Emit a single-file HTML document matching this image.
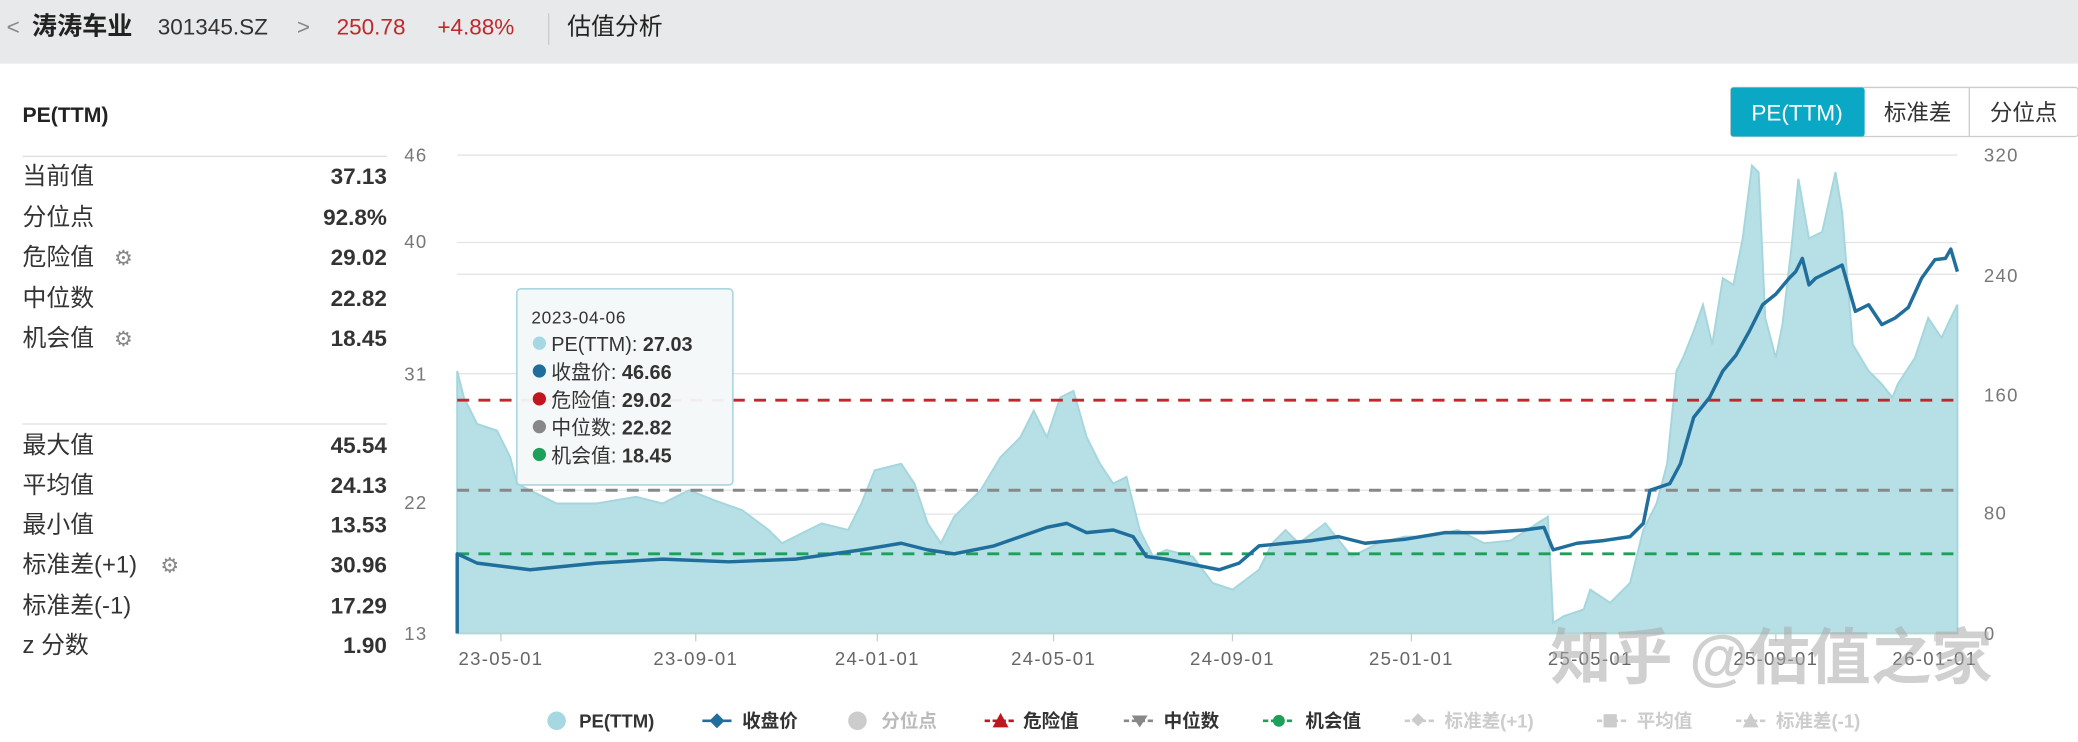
<!DOCTYPE html>
<html><head><meta charset="utf-8"><style>
html,body{margin:0;padding:0;background:#fff;}
svg{display:block;}
text{font-family:"Liberation Sans","Noto Sans CJK SC",sans-serif;}
</style></head><body>
<svg width="2078" height="742" viewBox="0 0 1568 560" preserveAspectRatio="none" xmlns="http://www.w3.org/2000/svg">
<rect x="0" y="0" width="1568" height="560" fill="#fff"/>
<rect x="0" y="0" width="1568" height="48" fill="#e8e9ea"/>
<text x="5" y="26" font-size="17" fill="#888">&lt;</text>
<text x="24" y="26" font-size="19" font-weight="bold" fill="#222">涛涛车业</text>
<text x="119" y="26" font-size="17" fill="#333">301345.SZ</text>
<text x="224" y="26" font-size="17" fill="#888">&gt;</text>
<text x="254" y="26" font-size="17" fill="#c0282d">250.78</text>
<text x="330" y="26" font-size="17" fill="#c0282d">+4.88%</text>
<line x1="414" y1="10" x2="414" y2="34" stroke="#ccc"/>
<text x="428" y="26" font-size="18" fill="#222">估值分析</text>

<text x="17" y="92" font-size="16" font-weight="bold" fill="#222">PE(TTM)</text>
<line x1="17" y1="118" x2="292" y2="118" stroke="#ddd"/>
<line x1="17" y1="320" x2="292" y2="320" stroke="#ddd"/>
<g font-size="18" fill="#333">
<text x="17" y="139">当前值</text><text x="17" y="170">分位点</text><text x="17" y="200">危险值</text>
<text x="17" y="231">中位数</text><text x="17" y="261">机会值</text>
<text x="17" y="342">最大值</text><text x="17" y="372">平均值</text><text x="17" y="402">最小值</text>
<text x="17" y="432">标准差(+1)</text><text x="17" y="463">标准差(-1)</text><text x="17" y="493">z 分数</text>
</g>
<g font-size="16" fill="#888"><text x="86" y="200">⚙</text><text x="86" y="261">⚙</text><text x="121" y="432">⚙</text></g>
<g font-size="17" font-weight="bold" fill="#333" text-anchor="end">
<text x="292" y="139">37.13</text><text x="292" y="170">92.8%</text><text x="292" y="200">29.02</text>
<text x="292" y="231">22.82</text><text x="292" y="261">18.45</text>
<text x="292" y="342">45.54</text><text x="292" y="372">24.13</text><text x="292" y="402">13.53</text>
<text x="292" y="432">30.96</text><text x="292" y="463">17.29</text><text x="292" y="493">1.90</text>
</g>

<rect x="1306" y="66" width="262" height="37" fill="#fff" stroke="#ccc" rx="2"/>
<rect x="1306" y="66" width="101" height="37" fill="#0aa8c4" rx="2"/>
<line x1="1486" y1="66" x2="1486" y2="103" stroke="#ccc"/>
<text x="1356" y="91" font-size="17" fill="#fff" text-anchor="middle">PE(TTM)</text>
<text x="1447" y="91" font-size="17" fill="#333" text-anchor="middle">标准差</text>
<text x="1527" y="91" font-size="17" fill="#333" text-anchor="middle">分位点</text>

<g stroke="#e4e4e4" stroke-width="1">
<line x1="345" y1="117" x2="1477" y2="117"/><line x1="345" y1="183" x2="1477" y2="183"/>
<line x1="345" y1="207" x2="1477" y2="207"/><line x1="345" y1="282" x2="1477" y2="282"/>
<line x1="345" y1="370" x2="1477" y2="370"/><line x1="345" y1="388" x2="1477" y2="388"/>
</g>
<g font-size="14" fill="#777" letter-spacing="1">
<text x="305" y="122">46</text><text x="305" y="187">40</text><text x="305" y="287">31</text>
<text x="305" y="384">22</text><text x="305" y="483">13</text>
<text x="1497" y="122">320</text><text x="1497" y="213">240</text><text x="1497" y="303">160</text>
<text x="1497" y="392">80</text><text x="1497" y="483">0</text>
</g>

<path fill="#b6e0e6" stroke="#a5d6de" stroke-width="1.5" d="M345,478 L345,280 350,300 360,320 375,325 385,345 390,365 400,370 420,380 450,380 480,375 500,380 520,370 540,378 560,385 580,400 590,410 600,405 620,395 640,400 650,380 660,355 680,350 690,365 700,395 710,410 720,390 740,370 755,345 770,330 780,310 790,330 800,300 810,295 820,330 830,350 840,365 850,360 860,400 870,420 880,415 900,420 915,440 930,445 950,430 960,410 970,400 980,410 1000,395 1020,420 1040,410 1060,405 1080,405 1100,400 1120,410 1140,408 1160,395 1168,390 1172,470 1180,465 1195,460 1200,445 1215,455 1230,440 1240,400 1250,380 1258,350 1265,280 1270,270 1278,250 1285,230 1292,260 1300,210 1308,215 1315,180 1322,125 1327,130 1332,240 1340,270 1345,245 1352,185 1357,135 1365,180 1375,175 1385,130 1390,160 1398,260 1410,280 1420,290 1428,300 1432,290 1445,270 1455,240 1465,255 1472,240 1477,230 L1477,478 Z"/>
<line x1="345" y1="478" x2="1477" y2="478" stroke="#ccc"/>

<line x1="345" y1="302" x2="1477" y2="302" stroke="#c0282d" stroke-width="2.2" stroke-dasharray="9,7"/>
<line x1="345" y1="370" x2="1477" y2="370" stroke="#888" stroke-width="2.2" stroke-dasharray="9,7"/>
<line x1="345" y1="418" x2="1477" y2="418" stroke="#1fa05a" stroke-width="2.2" stroke-dasharray="9,7"/>

<polyline fill="none" stroke="#1f6e9c" stroke-width="2.6" stroke-linejoin="round" points="345,478 345,418 360,425 400,430 450,425 500,422 550,424 600,422 650,415 680,410 700,415 720,418 750,412 770,405 790,398 805,395 820,402 840,400 855,405 865,420 880,422 900,426 920,430 935,425 950,412 970,410 990,408 1010,405 1030,410 1060,407 1090,402 1120,402 1150,400 1165,398 1172,415 1190,410 1210,408 1230,405 1240,395 1245,370 1260,365 1268,350 1278,315 1290,300 1300,280 1310,268 1320,250 1330,230 1340,222 1350,210 1355,205 1360,195 1365,215 1370,210 1380,205 1390,200 1400,235 1410,230 1420,245 1430,240 1440,232 1450,210 1460,196 1468,195 1472,188 1477,205"/>

<g stroke="#ccc"><line x1="378" y1="478" x2="378" y2="484"/><line x1="525" y1="478" x2="525" y2="484"/><line x1="662" y1="478" x2="662" y2="484"/><line x1="795" y1="478" x2="795" y2="484"/><line x1="930" y1="478" x2="930" y2="484"/><line x1="1065" y1="478" x2="1065" y2="484"/><line x1="1200" y1="478" x2="1200" y2="484"/><line x1="1340" y1="478" x2="1340" y2="484"/><line x1="1460" y1="478" x2="1460" y2="484"/></g>
<g font-size="14" fill="#666" text-anchor="middle" letter-spacing="1">
<text x="378" y="502">23-05-01</text><text x="525" y="502">23-09-01</text><text x="662" y="502">24-01-01</text>
<text x="795" y="502">24-05-01</text><text x="930" y="502">24-09-01</text><text x="1065" y="502">25-01-01</text>
<text x="1200" y="502">25-05-01</text><text x="1340" y="502">25-09-01</text><text x="1460" y="502">26-01-01</text>
</g>

<rect x="390" y="218" width="163" height="148" fill="#f4f8f9" fill-opacity="0.95" stroke="#a9d6de" stroke-width="1.2" rx="3"/>
<text x="401" y="244" font-size="13" fill="#333" letter-spacing="0.5">2023-04-06</text>
<g font-size="15" fill="#333">
<circle cx="407" cy="259" r="5" fill="#a6d8e1"/><text x="416" y="265">PE(TTM): <tspan font-weight="bold">27.03</tspan></text>
<circle cx="407" cy="280" r="5" fill="#1f6e9c"/><text x="416" y="286">收盘价: <tspan font-weight="bold">46.66</tspan></text>
<circle cx="407" cy="301" r="5" fill="#c0161e"/><text x="416" y="307">危险值: <tspan font-weight="bold">29.02</tspan></text>
<circle cx="407" cy="322" r="5" fill="#888"/><text x="416" y="328">中位数: <tspan font-weight="bold">22.82</tspan></text>
<circle cx="407" cy="343" r="5" fill="#1fa05a"/><text x="416" y="349">机会值: <tspan font-weight="bold">18.45</tspan></text>
</g>

<text x="1170" y="512" font-size="46" fill="#aaa" fill-opacity="0.55" font-weight="bold">知乎 @估值之家</text>

<g font-size="14" font-weight="bold">
<circle cx="420" cy="544" r="7" fill="#a6d8e1"/><text x="437" y="549" fill="#333">PE(TTM)</text>
<line x1="530" y1="544" x2="552" y2="544" stroke="#1f6e9c" stroke-width="2"/><rect x="537" y="540" width="8" height="8" transform="rotate(45 541 544)" fill="#1f6e9c"/><text x="560" y="549" fill="#333">收盘价</text>
<circle cx="647" cy="544" r="7" fill="#ccc"/><text x="665" y="549" fill="#bbb">分位点</text>
<line x1="743" y1="544" x2="766" y2="544" stroke="#c0161e" stroke-width="2" stroke-dasharray="4,2"/><path d="M749,549 L755,538 L761,549 Z" fill="#c0161e"/><text x="772" y="549" fill="#333">危险值</text>
<line x1="848" y1="544" x2="871" y2="544" stroke="#888" stroke-width="2" stroke-dasharray="4,2"/><path d="M854,540 L866,540 L860,549 Z" fill="#888"/><text x="878" y="549" fill="#333">中位数</text>
<line x1="953" y1="544" x2="977" y2="544" stroke="#1fa05a" stroke-width="2" stroke-dasharray="4,2"/><circle cx="965" cy="544" r="4.5" fill="#1fa05a"/><text x="985" y="549" fill="#333">机会值</text>
<line x1="1060" y1="544" x2="1082" y2="544" stroke="#ccc" stroke-width="2" stroke-dasharray="4,2"/><rect x="1066" y="540" width="7" height="7" transform="rotate(45 1070 544)" fill="#ccc"/><text x="1090" y="549" fill="#ccc">标准差(+1)</text>
<line x1="1205" y1="544" x2="1227" y2="544" stroke="#ccc" stroke-width="2" stroke-dasharray="4,2"/><rect x="1210" y="539" width="10" height="10" fill="#ccc"/><text x="1235" y="549" fill="#ccc">平均值</text>
<line x1="1310" y1="544" x2="1332" y2="544" stroke="#ccc" stroke-width="2" stroke-dasharray="4,2"/><path d="M1315,549 L1321,538 L1327,549 Z" fill="#ccc"/><text x="1340" y="549" fill="#ccc">标准差(-1)</text>
</g>
</svg>
</body></html>
